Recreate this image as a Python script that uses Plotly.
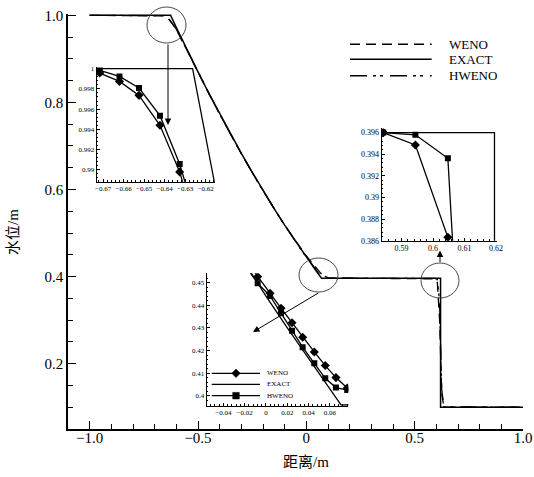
import plotly.graph_objects as go

# ---------------- data ----------------
x_exact = [-1.0, -0.6264, -0.6, -0.55, -0.5, -0.45, -0.4, -0.35, -0.3, -0.25, -0.2,
           -0.15, -0.1, -0.05, -0.0143, 0.0, 0.02, 0.04, 0.06, 0.0705, 0.6195, 0.6195, 1.0]
h_exact = [1.0, 1.0, 0.972, 0.920, 0.870, 0.821, 0.774, 0.727, 0.683, 0.640, 0.598,
           0.557, 0.518, 0.481, 0.4546, 0.444, 0.430, 0.4165, 0.403, 0.396, 0.396, 0.1, 0.1]

x_num = [-1.0, -0.69, -0.6813, -0.6716, -0.662, -0.6525, -0.6423, -0.6327, -0.623, -0.613,
         -0.6, -0.55, -0.5, -0.45, -0.4, -0.35, -0.3, -0.25, -0.2, -0.15, -0.1, -0.05,
         -0.018, -0.0078, 0.0038, 0.0141, 0.0244, 0.0344, 0.0453, 0.0556, 0.0656, 0.0762,
         0.0865, 0.097, 0.12, 0.2, 0.3, 0.4, 0.5, 0.5739, 0.5842, 0.5944, 0.6047, 0.615,
         0.625, 0.635, 1.0]
h_weno = [1.0, 1.0, 0.99995, 0.99957, 0.99874, 0.99736, 0.99439, 0.98977, 0.9835, 0.9765,
          0.967, 0.919, 0.869, 0.820, 0.773, 0.727, 0.682, 0.639, 0.597, 0.557, 0.518, 0.481,
          0.4593, 0.4526, 0.4453, 0.4387, 0.4323, 0.4259, 0.4194, 0.4134, 0.4081, 0.4035,
          0.4000, 0.3978, 0.3965, 0.3962, 0.3961, 0.3961, 0.3961, 0.3961, 0.3960, 0.39486,
          0.38631, 0.30, 0.13, 0.1, 0.1]
h_hweno = [1.0, 1.0, 1.0, 0.99983, 0.99924, 0.99809, 0.99535, 0.99056, 0.9850, 0.9775,
           0.968, 0.919, 0.869, 0.820, 0.773, 0.727, 0.682, 0.639, 0.597, 0.557, 0.518, 0.481,
           0.4565, 0.4497, 0.4441, 0.4365, 0.4288, 0.4215, 0.4144, 0.4078, 0.4037, 0.4026,
           0.4005, 0.3980, 0.3966, 0.3962, 0.3961, 0.3961, 0.3961, 0.3961, 0.3960, 0.3958,
           0.39363, 0.341, 0.14, 0.101, 0.1]

x_tickvals = [-1.0, -0.5, 0.0, 0.5, 1.0]
x_ticktext = ["\u22121.0", "\u22120.5", "0", "0.5", "1.0"]
y_tickvals = [0.2, 0.4, 0.6, 0.8, 1.0]
y_ticktext = ["0.2", "0.4", "0.6", "0.8", "1.0"]
series_names = ["WENO", "EXACT", "HWENO"]
x_title = "距离/m"
y_title = "水位/m"

# ---------------- layout helpers (pixel -> paper) ----------------
W, H = 534, 477
L, R, T, B = 68, 523, 14, 429


def pxp(px):
    return (px - L) / (R - L)


def pyp(py):
    return (B - py) / (B - T)


SERIF = "Liberation Serif, Noto Sans CJK SC, serif"
WENO_DASH = "10px,6px"
HWENO_DASH = "17px,6px,3px,4px,3px,7px"

fig = go.Figure()

# main traces
fig.add_trace(go.Scatter(x=x_exact, y=h_exact, mode="lines", name=series_names[1],
                         line=dict(color="black", width=1.5), showlegend=False))
fig.add_trace(go.Scatter(x=x_num, y=h_weno, mode="lines", name=series_names[0],
                         line=dict(color="black", width=1.3, dash=WENO_DASH), showlegend=False))
fig.add_trace(go.Scatter(x=x_num, y=h_hweno, mode="lines", name=series_names[2],
                         line=dict(color="black", width=1.3, dash=HWENO_DASH), showlegend=False))

# inset traces
for k in (2, 3, 4):
    xa, ya = f"x{k}", f"y{k}"
    fig.add_trace(go.Scatter(x=x_exact, y=h_exact, mode="lines", xaxis=xa, yaxis=ya,
                             line=dict(color="black", width=1.3), showlegend=False))
    fig.add_trace(go.Scatter(x=x_num, y=h_weno, mode="lines+markers", xaxis=xa, yaxis=ya,
                             line=dict(color="black", width=1.3),
                             marker=dict(symbol="diamond", size=7, color="black"),
                             showlegend=False))
    fig.add_trace(go.Scatter(x=x_num, y=h_hweno, mode="lines+markers", xaxis=xa, yaxis=ya,
                             line=dict(color="black", width=1.3),
                             marker=dict(symbol="square", size=6, color="black"),
                             showlegend=False))

main_axis = dict(showline=True, linecolor="black", linewidth=1.5, showgrid=False,
                 zeroline=False, ticks="inside", ticklen=8, tickwidth=1.2, tickcolor="black",
                 automargin=False,
                 tickfont=dict(family=SERIF, size=15, color="black"))

inset_axis = dict(showline=True, linecolor="black", linewidth=1, showgrid=False,
                  zeroline=False, ticks="inside", ticklen=3, tickwidth=0.8, tickcolor="black",
                  automargin=False,
                  tickangle=0, tickfont=dict(family=SERIF, size=7, color="black"))


def minor(dt):
    return dict(ticks="inside", ticklen=1.5, dtick=dt, tickcolor="black", tickwidth=0.6)


layout = dict(
    width=W, height=H, autosize=False, paper_bgcolor="white", plot_bgcolor="rgba(0,0,0,0)",
    margin=dict(l=L, r=W - R, t=T, b=H - B, autoexpand=False), showlegend=False,
    xaxis=dict(main_axis, domain=[0, 1], range=[-1.1, 1.0], tickmode="array",
               tickvals=x_tickvals, ticktext=x_ticktext, ticklabelstandoff=-6,
               minor=dict(ticks="inside", ticklen=5, dtick=0.1, tick0=0,
                          tickcolor="black", tickwidth=1.2)),
    yaxis=dict(main_axis, domain=[0, 1], range=[0.05, 1.003], tickmode="array",
               tickvals=y_tickvals, ticktext=y_ticktext,
               minor=dict(ticks="inside", ticklen=5, dtick=0.05, tick0=0,
                          tickcolor="black", tickwidth=1.2)),
    xaxis2=dict(inset_axis, domain=[pxp(96.7), pxp(215)], anchor="y2",
                range=[-0.6731, -0.6155], dtick=0.01, tick0=-0.67, minor=minor(0.002)),
    yaxis2=dict(inset_axis, domain=[pyp(181.7), pyp(66.7)], anchor="x2",
                range=[0.9888, 1.0002], dtick=0.002, tick0=0.99, minor=minor(0.0004)),
    xaxis3=dict(inset_axis, domain=[pxp(381.7), pxp(496.7)], anchor="y3",
                range=[0.5837, 0.6202], dtick=0.01, tick0=0.59, minor=minor(0.002),
                tickfont=dict(family=SERIF, size=8, color="black")),
    yaxis3=dict(inset_axis, domain=[pyp(240.7), pyp(128.3)], anchor="x3",
                range=[0.386, 0.3964], dtick=0.002, tick0=0.386, minor=minor(0.0004),
                tickfont=dict(family=SERIF, size=8, color="black")),
    xaxis4=dict(inset_axis, domain=[pxp(206.7), pxp(348.3)], anchor="y4",
                range=[-0.0556, 0.0772], dtick=0.02, tick0=0, minor=minor(0.004)),
    yaxis4=dict(inset_axis, domain=[pyp(405.7), pyp(273.3)], anchor="x4",
                range=[0.3957, 0.4541], dtick=0.01, tick0=0.4, minor=minor(0.002)),
)
fig.update_layout(**layout)

shapes = []
annotations = []

# zoom circles
for (x0, y0, x1, y1) in [(147, 7, 186, 43), (299, 258, 338, 292), (421, 263, 459, 298)]:
    shapes.append(dict(type="circle", xref="paper", yref="paper",
                       x0=pxp(x0), x1=pxp(x1), y0=pyp(y1), y1=pyp(y0),
                       line=dict(color="#333333", width=0.9)))

# arrows (head position, tail offset in px)
for (hx, hy, ax, ay) in [(168, 125, 0, -82), (253, 332, 67, -40), (440, 250.5, 0, 13)]:
    annotations.append(dict(xref="paper", yref="paper", x=pxp(hx), y=pyp(hy), text="",
                            showarrow=True, ax=ax, ay=ay, arrowhead=2, arrowsize=1.3,
                            arrowwidth=1, arrowcolor="black"))

# main legend (drawn)
main_rows = [44.3, 59.3, 75.7]
main_dash = [WENO_DASH, "solid", HWENO_DASH]
for name, ry, dsh in zip(series_names, main_rows, main_dash):
    shapes.append(dict(type="line", xref="paper", yref="paper", x0=pxp(350), x1=pxp(431.7),
                       y0=pyp(ry), y1=pyp(ry), line=dict(color="black", width=1.4, dash=dsh)))
    annotations.append(dict(xref="paper", yref="paper", x=pxp(447), y=pyp(ry), text=name,
                            showarrow=False, xanchor="left", yanchor="middle",
                            font=dict(family=SERIF, size=13, color="black")))

# inset legend (drawn)
in_rows = [373.3, 384.3, 395.7]
for i, (name, ry) in enumerate(zip(series_names, in_rows)):
    shapes.append(dict(type="line", xref="paper", yref="paper", x0=pxp(211.7), x1=pxp(260),
                       y0=pyp(ry), y1=pyp(ry), line=dict(color="black", width=1.2)))
    annotations.append(dict(xref="paper", yref="paper", x=pxp(265), y=pyp(ry), text=name,
                            showarrow=False, xanchor="left", yanchor="middle",
                            font=dict(family=SERIF, size=7, color="black")))
    cx, cy = 236, ry
    if i == 0:
        d = 4.3
        path = (f"M {pxp(cx-d)},{pyp(cy)} L {pxp(cx)},{pyp(cy-d)} L {pxp(cx+d)},{pyp(cy)} "
                f"L {pxp(cx)},{pyp(cy+d)} Z")
        shapes.append(dict(type="path", xref="paper", yref="paper", path=path,
                           fillcolor="black", line=dict(color="black", width=0.5)))
    elif i == 2:
        d = 3.3
        shapes.append(dict(type="rect", xref="paper", yref="paper",
                           x0=pxp(cx-d), x1=pxp(cx+d), y0=pyp(cy+d), y1=pyp(cy-d),
                           fillcolor="black", line=dict(color="black", width=0.5)))

# axis titles
annotations.append(dict(xref="x", yref="paper", x=0.0, y=pyp(462), yanchor="middle",
                        text=x_title, showarrow=False,
                        font=dict(family=SERIF, size=15, color="black")))
annotations.append(dict(xref="paper", yref="paper", x=pxp(13), y=pyp(232),
                        xanchor="center", yanchor="middle", text=y_title,
                        textangle=-90, showarrow=False,
                        font=dict(family=SERIF, size=15, color="black")))

fig.update_layout(shapes=shapes, annotations=annotations)
fig.write_html("out.html", config={"displayModeBar": False},
               post_script="document.body.style.margin='0px';"
                           "document.body.style.overflow='hidden';")
